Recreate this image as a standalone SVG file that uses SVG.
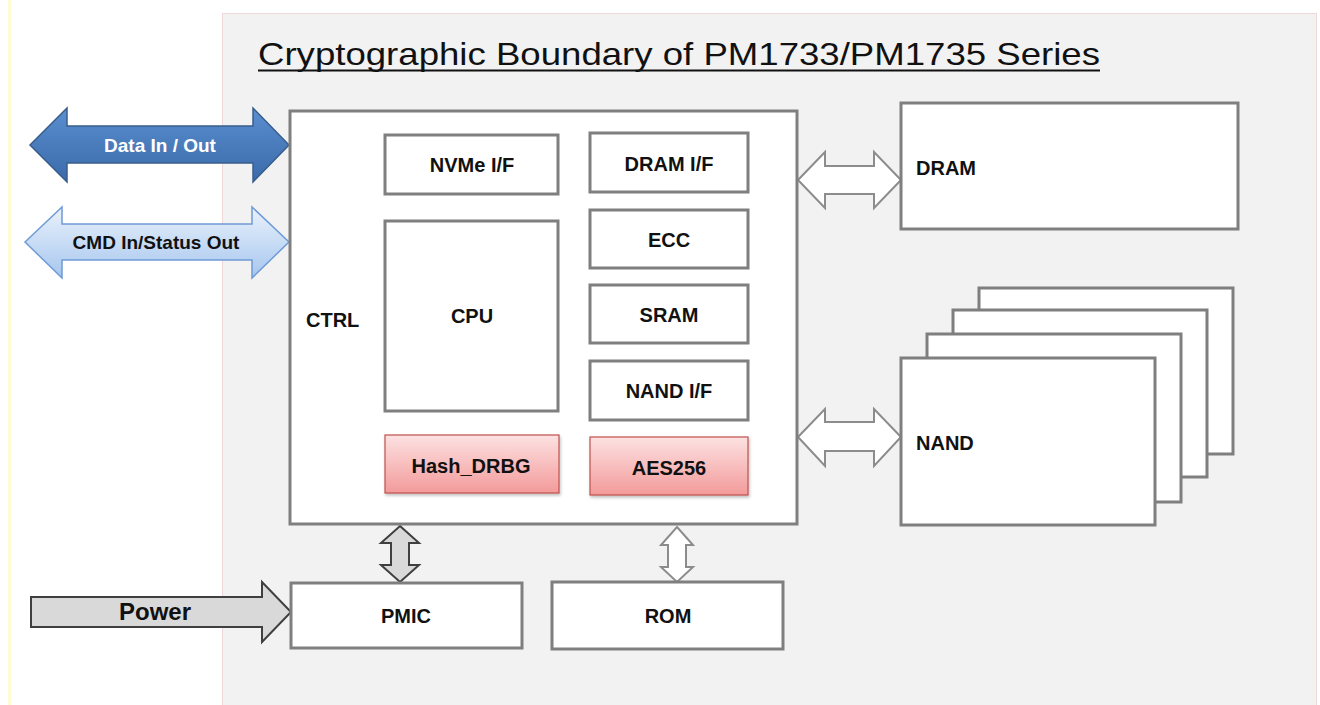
<svg xmlns="http://www.w3.org/2000/svg" width="1320" height="705" viewBox="0 0 1320 705">
<defs>
<linearGradient id="gPink" x1="0" y1="0" x2="0" y2="1"><stop offset="0" stop-color="#fde2e2"/><stop offset="1" stop-color="#f39a9a"/></linearGradient>
<linearGradient id="gBlue" x1="0" y1="0" x2="0" y2="1"><stop offset="0" stop-color="#5a8fd0"/><stop offset="1" stop-color="#3a6aa8"/></linearGradient>
<linearGradient id="gLight" x1="0" y1="0" x2="0" y2="1"><stop offset="0" stop-color="#eaf2fc"/><stop offset="1" stop-color="#a6c6ee"/></linearGradient>
<filter id="sh" x="-10%" y="-10%" width="130%" height="140%"><feDropShadow dx="1" dy="2" stdDeviation="1.5" flood-color="#000" flood-opacity="0.25"/></filter>
</defs>
<style>
.box{fill:#ffffff;stroke:#7f7f7f;stroke-width:3}
.pink{fill:url(#gPink);stroke:#c0504d;stroke-width:1.2;filter:url(#sh)}
.lbl{font-family:"Liberation Sans",Arial,sans-serif;font-weight:bold;font-size:20px;fill:#111}
.c{text-anchor:middle}
.wa{fill:#ffffff;stroke:#8c8c8c;stroke-width:2}
.ga{fill:#d9d9d9;stroke:#3f3f3f;stroke-width:2}
</style>
<rect x="0" y="0" width="1320" height="705" fill="#ffffff"/>
<rect x="8" y="0" width="3" height="705" fill="#fffbd2"/>
<rect id="boundary" x="222.5" y="13.5" width="1094" height="700" fill="#f2f2f2" stroke="#f0d8d8" stroke-width="1"/>
<g id="title">
<text x="258" y="65" font-family="Liberation Sans,Arial,sans-serif" font-size="32" fill="#111" textLength="842" lengthAdjust="spacingAndGlyphs">Cryptographic Boundary of PM1733/PM1735 Series</text>
<rect x="258" y="69.5" width="842" height="2" fill="#111"/>
</g>
<g id="connectors">
<path id="data-arrow" d="M30,145 L67,108 L67,126 L253,126 L253,108 L289,145 L253,182 L253,163 L67,163 L67,182 Z" fill="url(#gBlue)" stroke="#385d8a" stroke-width="1.5"/>
<path id="cmd-arrow" d="M25,242 L62,207 L62,224 L252,224 L252,207 L289,242 L252,278 L252,260 L62,260 L62,278 Z" fill="url(#gLight)" stroke="#6f9bd5" stroke-width="1.5"/>
<path id="power-arrow" class="ga" d="M31,597 L262,597 L262,582 L291,612 L262,642 L262,627 L31,627 Z"/>
<path id="dram-arrow" class="wa" d="M798,180 L825,152 L825,166 L874,166 L874,152 L901,180 L874,208 L874,194 L825,194 L825,208 Z"/>
<path id="nand-arrow" class="wa" d="M798,437 L825,409 L825,422 L874,422 L874,409 L901,437 L874,466 L874,451 L825,451 L825,466 Z"/>
<path id="pmic-arrow" class="ga" d="M400,526 L419,543 L409,543 L409,565 L419,565 L400,582 L381,565 L391,565 L391,543 L381,543 Z"/>
<path id="rom-arrow" class="wa" d="M677,527 L693,545 L686,545 L686,567 L693,567 L677,582 L661,567 L668,567 L668,545 L661,545 Z"/>
<text class="lbl c" x="160" y="152" style="fill:#ffffff;font-size:19px">Data In / Out</text>
<text class="lbl c" x="156" y="249" style="font-size:19px">CMD In/Status Out</text>
<text class="lbl c" x="155" y="620" style="font-size:24px">Power</text>
</g>
<g id="ctrl"><rect class="box" x="290" y="111" width="507" height="413"/><text class="lbl" x="306" y="327">CTRL</text></g>
<g id="nvme"><rect class="box" x="385" y="135" width="173" height="59"/><text class="lbl c" x="472" y="172">NVMe I/F</text></g>
<g id="cpu"><rect class="box" x="385" y="221" width="173" height="190"/><text class="lbl c" x="472" y="323">CPU</text></g>
<g id="dramif"><rect class="box" x="590" y="133" width="158" height="59"/><text class="lbl c" x="669" y="171">DRAM I/F</text></g>
<g id="ecc"><rect class="box" x="590" y="210" width="158" height="58"/><text class="lbl c" x="669" y="247">ECC</text></g>
<g id="sram"><rect class="box" x="590" y="285" width="158" height="58"/><text class="lbl c" x="669" y="322">SRAM</text></g>
<g id="nandif"><rect class="box" x="590" y="361" width="158" height="59"/><text class="lbl c" x="669" y="398">NAND I/F</text></g>
<g id="hash"><rect class="pink" x="385" y="435" width="174" height="58"/><text class="lbl c" x="471" y="473">Hash_DRBG</text></g>
<g id="aes"><rect class="pink" x="590" y="437" width="158" height="58"/><text class="lbl c" x="669" y="475">AES256</text></g>
<g id="pmic"><rect class="box" x="291" y="583" width="231" height="65"/><text class="lbl c" x="406" y="623">PMIC</text></g>
<g id="rom"><rect class="box" x="552" y="582" width="231" height="67"/><text class="lbl c" x="668" y="623">ROM</text></g>
<g id="dram"><rect class="box" x="901" y="103" width="337" height="126"/><text class="lbl" x="916" y="175">DRAM</text></g>
<g id="nand">
<rect class="box" x="979" y="288" width="254" height="166"/>
<rect class="box" x="953" y="310" width="254" height="167"/>
<rect class="box" x="927" y="334" width="254" height="168"/>
<rect class="box" x="901" y="358" width="254" height="167"/>
<text class="lbl" x="916" y="450">NAND</text>
</g>
</svg>
